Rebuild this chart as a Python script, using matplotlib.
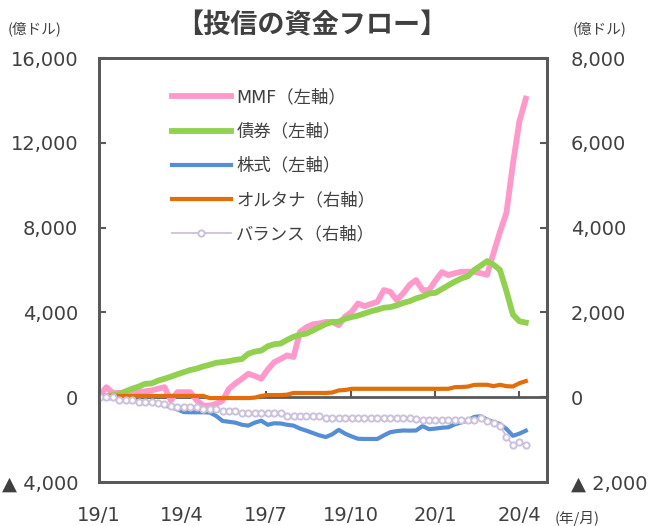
import pandas as pd
import matplotlib
matplotlib.use("Agg")
import matplotlib.pyplot as plt

plt.rcParams['font.family'] = ['DejaVu Sans', 'Noto Sans CJK JP']

# weekly dates, cumulative flows since 2019/1
dates = pd.date_range('2019-01-02', periods=67, freq='7D')

mmf = [100, 470, 200, 200, 200, 220, 240, 280, 317, 400,
       473, -156, 237, 237, 237, -156, -393, -400, -315, -156,
       397, 650, 870, 1105, 1000, 871, 1300, 1650, 1800, 1974,
       1894, 3077, 3300, 3440, 3480, 3550, 3550, 3394, 3800, 4024,
       4420, 4294, 4400, 4497, 5051, 4971, 4578, 4900, 5300, 5525,
       5051, 5051, 5500, 5900, 5761, 5850, 5918, 5918, 5918, 5850,
       5770, 6800, 7800, 8700, 11000, 13000, 14080]

bonds = [0, 60, 100, 150, 280, 400, 500, 630, 650, 780,
         870, 970, 1080, 1180, 1280, 1350, 1450, 1530, 1620, 1660,
         1700, 1760, 1800, 2050, 2150, 2200, 2400, 2500, 2530, 2700,
         2850, 2950, 3000, 3150, 3300, 3450, 3550, 3560, 3700, 3780,
         3850, 3950, 4050, 4130, 4220, 4250, 4330, 4450, 4530, 4660,
         4750, 4890, 4924, 5100, 5280, 5450, 5600, 5700, 6000, 6200,
         6420, 6250, 6000, 5000, 3900, 3580, 3520]

stocks = [0, -30, -60, -100, -125, -160, -200, -236, -270, -300,
          -380, -470, -580, -700, -710, -710, -710, -720, -880, -1120,
          -1160, -1200, -1300, -1340, -1200, -1110, -1300, -1230, -1240, -1300,
          -1340, -1480, -1580, -1690, -1800, -1880, -1750, -1540, -1720, -1850,
          -1960, -1970, -1970, -1970, -1800, -1650, -1600, -1570, -1577, -1570,
          -1360, -1510, -1480, -1440, -1420, -1280, -1190, -1100, -930, -900,
          -1050, -1180, -1260, -1500, -1820, -1720, -1580]

alt = [0, 30, 30, 30, 30, 30, 30, 30, 30, 30,
       30, 30, 30, 30, 30, 30, 30, -20, -20, -20,
       -20, -20, -20, -20, -10, 30, 50, 50, 50, 60,
       100, 100, 100, 100, 100, 100, 110, 160, 170, 198,
       198, 198, 198, 198, 198, 198, 198, 198, 198, 198,
       198, 198, 198, 198, 198, 237, 240, 250, 290, 293,
       293, 260, 293, 260, 253, 330, 380]

balance = [0, 0, 0, -60, -60, -60, -110, -115, -115, -135,
           -165, -205, -235, -237, -237, -237, -284, -284, -284, -331,
           -331, -331, -379, -379, -379, -379, -379, -379, -379, -433,
           -433, -433, -433, -433, -433, -489, -489, -489, -489, -489,
           -489, -489, -489, -489, -489, -489, -489, -489, -489, -510,
           -534, -534, -534, -534, -534, -534, -534, -534, -530, -496,
           -550, -615, -670, -930, -1127, -1065, -1127]

xticks = pd.to_datetime(['2019-01-01', '2019-04-01', '2019-07-01',
                         '2019-10-01', '2020-01-01', '2020-04-01'])
xlabels = ['19/1', '19/4', '19/7', '19/10', '20/1', '20/4']
lticks = [-4000, 0, 4000, 8000, 12000, 16000]
llabels = ['▲ 4,000', '0', '4,000', '8,000', '12,000', '16,000']
rticks = [-2000, 0, 2000, 4000, 6000, 8000]
rlabels = ['▲ 2,000', '0', '2,000', '4,000', '6,000', '8,000']

txt = '#404040'
axc = '#595959'

fig = plt.figure(figsize=(6.53, 5.26), dpi=100)
ax = fig.add_axes([99/653, 1-482/526, 448/653, 424/526])
ax2 = ax.twinx()

ax.axhline(0, color=axc, lw=2, zorder=1)
l1, = ax.plot(dates, mmf, color='#FF99CC', lw=4.2, label='MMF（左軸）', solid_joinstyle='round')
l2, = ax.plot(dates, bonds, color='#92D050', lw=4.2, label='債券（左軸）', solid_joinstyle='round')
l3, = ax.plot(dates, stocks, color='#558ED5', lw=3, label='株式（左軸）', solid_joinstyle='round')
l4, = ax2.plot(dates, alt, color='#E46C0A', lw=3, label='オルタナ（右軸）', solid_joinstyle='round')
l5, = ax2.plot(dates, balance, color='#CCC1DA', lw=1.3, marker='o', ms=4.5,
               mfc='white', mec='#CCC1DA', mew=1.4, label='バランス（右軸）')

ax.set_xlim(pd.Timestamp('2019-01-01'), pd.Timestamp('2020-05-01'))
ax.set_ylim(-4000, 16000)
ax2.set_ylim(-2000, 8000)

ax.set_xticks(xticks)
ax.set_xticklabels(xlabels)
ax.tick_params(axis='x', length=0, pad=17, labelsize=14, labelcolor=txt)
sec = ax.secondary_xaxis(0.2)
sec.set_xticks(xticks)
sec.tick_params(axis='x', direction='in', length=4, width=1.5, color=axc, labelbottom=False)
sec.spines['bottom'].set_visible(False)

ax.set_yticks(lticks)
ax.set_yticklabels(llabels)
ax.tick_params(axis='y', direction='in', length=5, width=1.5, color=axc, pad=15,
               labelsize=14, labelcolor=txt)
ax2.set_yticks(rticks)
ax2.set_yticklabels(rlabels)
ax2.tick_params(axis='y', direction='in', length=5, width=1.5, color=axc, pad=17,
                labelsize=14, labelcolor=txt)

for a in (ax, ax2):
    for s in a.spines.values():
        s.set_color(axc)
        s.set_linewidth(2)

ax.legend(handles=[l1, l2, l3, l4, l5], loc='upper left', bbox_to_anchor=(0.128, 0.965),
          frameon=False, fontsize=12.5, handlelength=3.4, handletextpad=0.3,
          labelspacing=0.93, labelcolor=txt)

fig.text(312/653, 1-25/526, '【投信の資金フロー】', ha='center', va='center',
         fontsize=19.5, fontweight='bold', color=txt, family=['Noto Sans CJK JP'])
fig.text(35/653, 1-29/526, '(億ドル)', ha='center', va='center', fontsize=10.5,
         color=txt, family=['Noto Sans CJK JP'])
fig.text(600/653, 1-29/526, '(億ドル)', ha='center', va='center', fontsize=10.5,
         color=txt, family=['Noto Sans CJK JP'])
fig.text(577/653, 1-518/526, '(年/月)', ha='center', va='center', fontsize=10.5,
         color=txt, family=['Noto Sans CJK JP'])

fig.savefig('out.png', dpi=100)
